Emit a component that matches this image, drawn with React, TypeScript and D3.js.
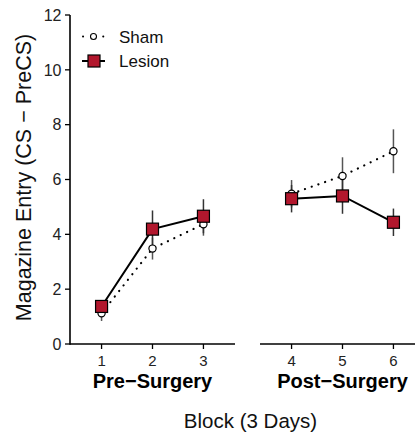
import React from "react";
import * as d3 from "d3";

const blocks = [1, 2, 3, 4, 5, 6];
const shamMean = [1.12, 3.48, 4.37, 5.48, 6.13, 7.03];
const shamSE = [0.28, 0.4, 0.42, 0.5, 0.68, 0.8];
const lesionMean = [1.37, 4.19, 4.66, 5.3, 5.4, 4.44];
const lesionSE = [0.15, 0.68, 0.62, 0.5, 0.65, 0.5];
const yTicks = [0, 2, 4, 6, 8, 10, 12];
const panelLabels = ["Pre\u2212Surgery", "Post\u2212Surgery"];
const legendLabels = ["Sham", "Lesion"];

const W = 415, H = 432;
const FONT = "Liberation Sans, Arial, sans-serif";
const RED = "#B2172D";

export default function App() {
  const y = d3.scaleLinear().domain([0, 12]).range([344, 15]);
  const xL = d3.scaleLinear().domain([0.4, 3.6]).range([71, 234]);
  const xR = d3.scaleLinear().domain([3.4, 6.6]).range([261, 424]);
  const panels = [
    { x: xL, idx: [0, 1, 2], range: [70, 235] },
    { x: xR, idx: [3, 4, 5], range: [260, 424] },
  ];
  const line = (xs: d3.ScaleLinear<number, number>, vals: number[], idx: number[]) =>
    d3.line<number>().x((i) => xs(blocks[i])).y((i) => y(vals[i]))(idx) || "";
  const sq = 12;
  return (
    <svg width={W} height={H} style={{ position: "absolute", left: 0, top: 0, background: "#fff" }} fontFamily={FONT}>
      {/* y axis */}
      <line x1={70} x2={70} y1={y(12)} y2={y(0) + 0.75} stroke="#000" strokeWidth={1.6} />
      {yTicks.map((t) => (
        <g key={t}>
          <line x1={65} x2={70} y1={y(t)} y2={y(t)} stroke="#000" strokeWidth={1.3} />
          <text x={61.5} y={y(t)} dy="0.36em" textAnchor="end" fontSize={16} fill="#222">{t}</text>
        </g>
      ))}
      {panels.map((p, pi) => (
        <g key={pi}>
          <line x1={p.range[0]} x2={p.range[1]} y1={344} y2={344} stroke="#000" strokeWidth={1.6} />
          {p.idx.map((i) => (
            <g key={i}>
              <line x1={p.x(blocks[i])} x2={p.x(blocks[i])} y1={344} y2={349} stroke="#000" strokeWidth={1.3} />
              <text x={p.x(blocks[i])} y={365.5} textAnchor="middle" fontSize={15} fill="#222">{blocks[i]}</text>
            </g>
          ))}
          <text x={(p.x(blocks[p.idx[0]]) + p.x(blocks[p.idx[2]])) / 2} y={388} textAnchor="middle" fontSize={20} fontWeight="bold" fill="#000">{panelLabels[pi]}</text>
          {/* error bars */}
          {p.idx.map((i) => (
            <g key={"e" + i}>
              <line x1={p.x(blocks[i])} x2={p.x(blocks[i])} y1={y(shamMean[i] - shamSE[i])} y2={y(shamMean[i] + shamSE[i])} stroke="#555" strokeWidth={1.5} />
              <line x1={p.x(blocks[i])} x2={p.x(blocks[i])} y1={y(lesionMean[i] - lesionSE[i])} y2={y(lesionMean[i] + lesionSE[i])} stroke="#333" strokeWidth={1.5} />
            </g>
          ))}
          <path d={line(p.x, shamMean, p.idx)} fill="none" stroke="#000" strokeWidth={2.2} strokeDasharray="0.1 7" strokeLinecap="round" />
          <path d={line(p.x, lesionMean, p.idx)} fill="none" stroke="#000" strokeWidth={2} />
          {p.idx.map((i) => (
            <circle key={"c" + i} cx={p.x(blocks[i])} cy={y(shamMean[i])} r={3.6} fill="#fff" stroke="#000" strokeWidth={1.2} />
          ))}
          {p.idx.map((i) => (
            <rect key={"s" + i} x={p.x(blocks[i]) - sq / 2} y={y(lesionMean[i]) - sq / 2} width={sq} height={sq} fill={RED} stroke="#000" strokeWidth={1.2} />
          ))}
        </g>
      ))}
      {/* legend */}
      <line x1={83} x2={104} y1={36.5} y2={36.5} stroke="#000" strokeWidth={2} strokeDasharray="0.1 10" strokeLinecap="round" />
      <circle cx={93.5} cy={36.5} r={3} fill="#fff" stroke="#000" strokeWidth={1.1} />
      <text x={119} y={42.5} fontSize={17} fill="#111">{legendLabels[0]}</text>
      <line x1={82} x2={105} y1={61} y2={61} stroke="#000" strokeWidth={2} />
      <rect x={88} y={55} width={12} height={12} fill={RED} stroke="#000" strokeWidth={1.2} />
      <text x={119} y={66.5} fontSize={17} fill="#111">{legendLabels[1]}</text>
      {/* titles */}
      <text transform={`translate(31, 177.5) rotate(-90)`} textAnchor="middle" fontSize={21.5} fill="#111">Magazine Entry (CS {"\u2212"} PreCS)</text>
      <text x={250.5} y={428} textAnchor="middle" fontSize={20.5} fill="#111">Block (3 Days)</text>
    </svg>
  );
}
